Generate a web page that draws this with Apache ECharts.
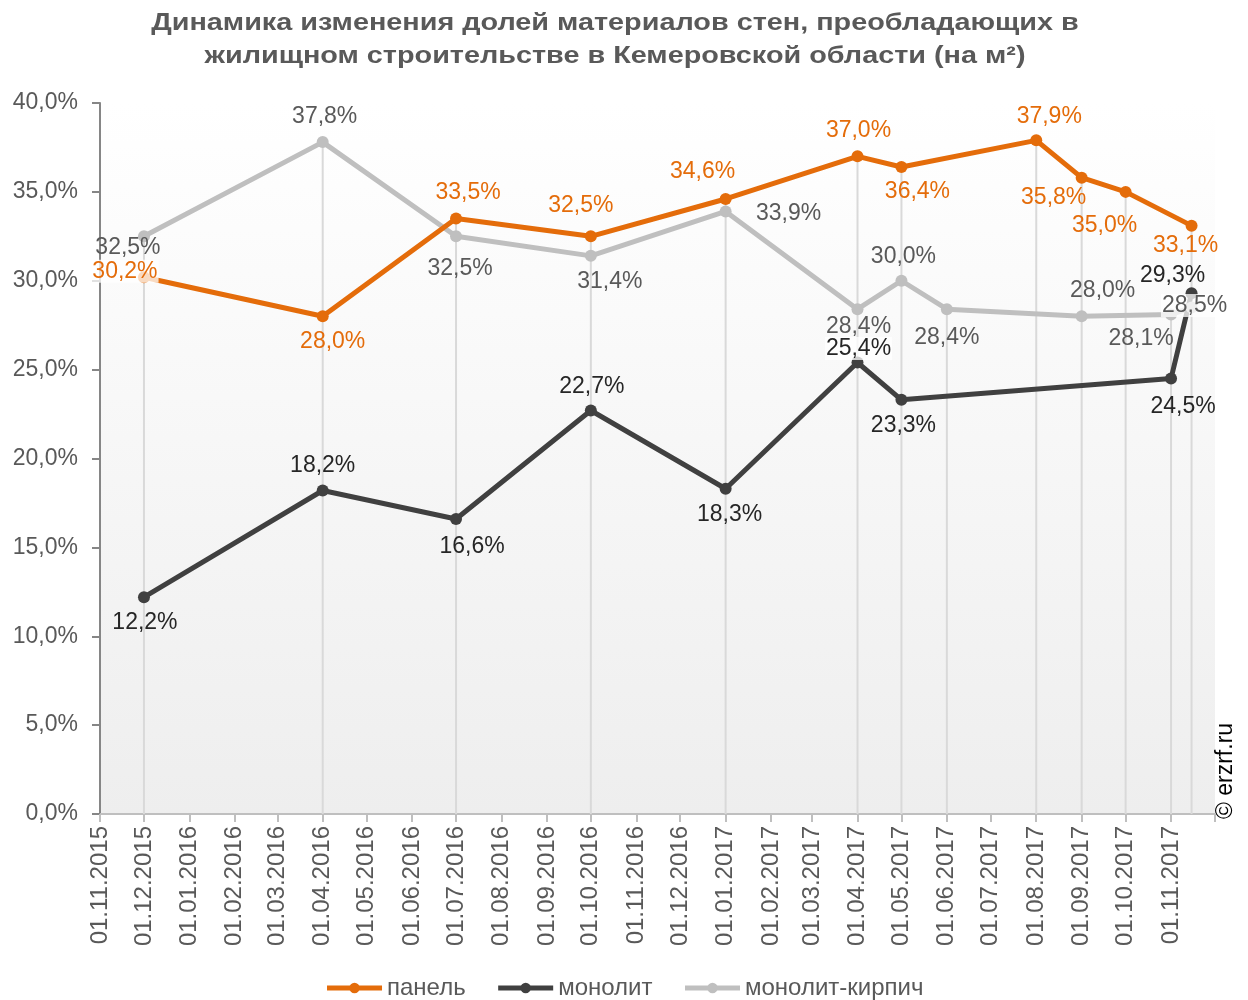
<!DOCTYPE html>
<html>
<head>
<meta charset="utf-8">
<script src="https://cdn.jsdelivr.net/npm/echarts@6/dist/echarts.min.js"></script>
<style>html,body{margin:0;padding:0;background:#fff}#chart{width:1248px;height:1000px}</style>
</head>
<body>
<div id="chart"></div>
<script>
// ---- data ----
const dates = ['2015-12-01','2016-04-01','2016-07-01','2016-10-01','2017-01-01','2017-04-01','2017-05-01','2017-06-01','2017-08-01','2017-09-01','2017-10-01','2017-11-01','2017-11-15'];
const panel   = [30.2, 28.0, 33.5, 32.5, 34.6, 37.0, 36.4, null, 37.9, 35.8, 35.0, null, 33.1];
const monolit = [12.2, 18.2, 16.6, 22.7, 18.3, 25.4, 23.3, null, null, null, null, 24.5, 29.3];
const brick   = [32.5, 37.8, 32.5, 31.4, 33.9, 28.4, 30.0, 28.4, null, 28.0, null, 28.1, 28.5];
const seriesNames = ['панель', 'монолит', 'монолит-кирпич'];
const yTicks = [0, 5, 10, 15, 20, 25, 30, 35, 40];
const axisStart = '2015-11-01';
const axisEnd = '2017-12-01';
const titleText = 'Динамика изменения долей материалов стен, преобладающих в\nжилищном строительстве в Кемеровской области (на м²)';
const sourceText = '© erzrf.ru';

// ---- label placement (style only) ----
const panelOffsets   = [[-19,-6],[10,25],[12,-26],[-10,-31],[-23,-27],[1,-26],[16,25],null,[13,-24],[-28,20],[-21,34],null,[-6,20]];
const monolitOffsets = [[1,26],[0,-25],[16,28],[1,-24],[4,26],[1,-14],[2,26],null,null,null,null,[12,28],[-19,-18]];
const brickOffsets   = [[-16,11],[2,-25],[4,32],[19,26],[63,2],[1,17],[2,-24],[0,28],null,[21,-26],null,[-30,24],[3,-2]];

const fmt = v => v.toFixed(1).replace('.', ',') + '%';
const fmtDate = v => {
  const d = new Date(v);
  return String(d.getDate()).padStart(2, '0') + '.' + String(d.getMonth() + 1).padStart(2, '0') + '.' + d.getFullYear();
};
const endLabel = fmtDate(echarts.number.parseDate(axisEnd).getTime());

function build(vals, offsets, bgIdx) {
  const out = [];
  vals.forEach((v, i) => {
    if (v == null) return;
    const item = { value: [dates[i], v], label: { offset: offsets[i] } };
    if (bgIdx && bgIdx.indexOf(i) >= 0) {
      item.label.backgroundColor = 'rgba(255,255,255,0.75)';
      item.label.padding = [0, 1];
    }
    out.push(item);
  });
  return out;
}

const dropData = dates.map((d, i) => {
  const vs = [panel[i], monolit[i], brick[i]].filter(v => v != null);
  return [d, Math.max.apply(null, vs)];
});

const FONT = 'Liberation Sans, Arial, sans-serif';
const colors = ['#E46C0A', '#404040', '#BFBFBF'];
const labelColors = ['#E46C0A', '#262626', '#595959'];

function lineSeries(idx, vals, offsets, bgIdx) {
  return {
    name: seriesNames[idx],
    type: 'line',
    data: build(vals, offsets, bgIdx),
    symbol: 'circle',
    symbolSize: 12,
    lineStyle: { width: 5, color: colors[idx] },
    itemStyle: { color: colors[idx] },
    z: 3,
    label: {
      show: true,
      position: 'inside',
      formatter: p => fmt(p.value[1]),
      fontFamily: FONT,
      fontSize: 23,
      color: labelColors[idx]
    },
    emphasis: { disabled: true },
    animation: false
  };
}

const chart = echarts.init(document.getElementById('chart'), null, { renderer: 'canvas' });
chart.setOption({
  backgroundColor: '#ffffff',
  animation: false,
  legend: {
    data: seriesNames,
    top: 971,
    left: 'center',
    itemWidth: 55,
    itemHeight: 13,
    itemGap: 30,
    lineStyle: { width: 5 },
    textStyle: { fontFamily: FONT, fontSize: 24, color: '#595959' }
  },
  grid: {
    left: 100, right: 33, top: 103, bottom: 186,
    show: true,
    borderWidth: 0,
    backgroundColor: { type: 'linear', x: 0, y: 0, x2: 0, y2: 1,
      colorStops: [{ offset: 0, color: '#ffffff' }, { offset: 1, color: '#eeeeee' }] }
  },
  xAxis: {
    type: 'time',
    min: axisStart,
    max: axisEnd,
    splitNumber: 25,
    minInterval: 28 * 86400000,
    maxInterval: 31 * 86400000,
    axisLine: { lineStyle: { color: '#BFBFBF', width: 2 } },
    axisTick: { show: true, length: 8, lineStyle: { color: '#BFBFBF', width: 2 } },
    splitLine: { show: false },
    axisLabel: {
      rotate: 90,
      margin: 12,
      fontFamily: FONT,
      fontSize: 24,
      color: '#595959',
      hideOverlap: false,
      formatter: v => {
        const s = fmtDate(v);
        return s === endLabel ? '' : s;
      }
    }
  },
  yAxis: {
    type: 'value',
    min: yTicks[0],
    max: yTicks[yTicks.length - 1],
    interval: yTicks[1] - yTicks[0],
    axisLine: { show: true, lineStyle: { color: '#868686', width: 2 } },
    axisTick: { show: true, length: 8, lineStyle: { color: '#868686', width: 2 } },
    splitLine: { show: false },
    axisLabel: {
      margin: 22,
      fontFamily: FONT,
      fontSize: 23,
      color: '#595959',
      formatter: v => fmt(v)
    }
  },
  graphic: [{
    type: 'text',
    x: 615, y: 7,
    scaleX: 1.2,
    style: { text: titleText, fontFamily: FONT, fontSize: 24, fontWeight: 'bold', fill: '#595959',
      align: 'center', verticalAlign: 'top', lineHeight: 33 }
  }, {
    type: 'text',
    x: 1226, y: 771,
    rotation: Math.PI / 2,
    style: { text: sourceText, fontFamily: FONT, fontSize: 23, fill: '#000000', align: 'center', verticalAlign: 'middle' }
  }],
  series: [
    {
      type: 'custom',
      data: dropData,
      encode: { x: 0, y: 1 },
      silent: true,
      z: 1,
      renderItem: (params, api) => {
        const top = api.coord([api.value(0), api.value(1)]);
        const bot = api.coord([api.value(0), 0]);
        return { type: 'line', shape: { x1: top[0], y1: top[1], x2: bot[0], y2: bot[1] },
          style: { stroke: '#D9D9D9', lineWidth: 2 } };
      }
    },
    lineSeries(2, brick, brickOffsets, [12]),
    lineSeries(1, monolit, monolitOffsets, [5]),
    lineSeries(0, panel, panelOffsets, [0])
  ]
});
</script>
</body>
</html>
